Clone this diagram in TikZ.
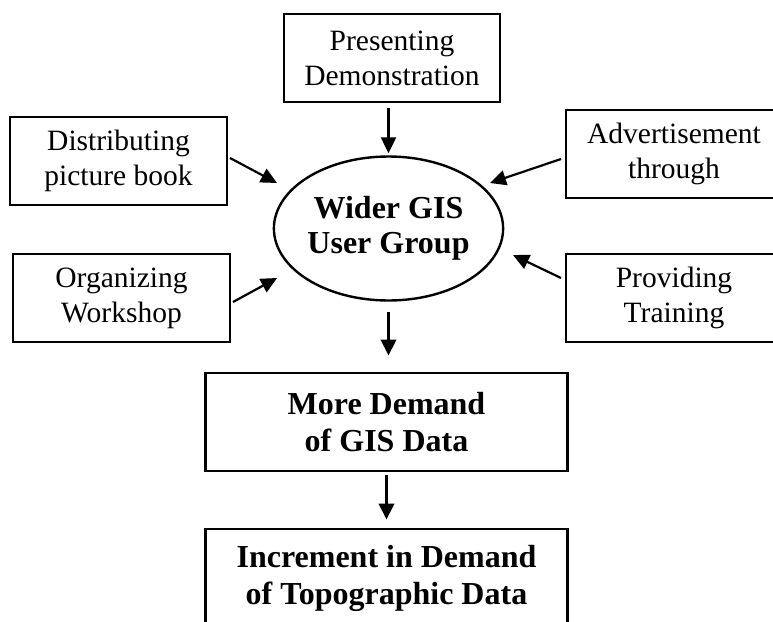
\documentclass[tikz,border=0pt]{standalone}
\usepackage{fontspec}
\setmainfont{Liberation Serif}
\usetikzlibrary{arrows.meta,shapes.geometric}
\begin{document}
\begin{tikzpicture}[x=1pt,y=1pt,
  smallbox/.style={draw, line width=2pt, minimum width=217pt, minimum height=88pt, inner sep=0pt, align=center, font=\fontsize{29.5}{35}\selectfont},
  bigbox/.style={draw, line width=2.8pt, minimum width=362pt, minimum height=98pt, inner sep=0pt, align=center, font=\fontsize{32}{37}\selectfont\bfseries},
  ellbox/.style={draw, ellipse, line width=2.4pt, minimum width=225pt, minimum height=144pt, inner sep=0pt, align=center, font=\fontsize{32}{35}\selectfont\bfseries},
  arr/.style={line width=2.2pt, -{Triangle[length=16pt,width=15pt]}},
  bigarr/.style={line width=3.4pt, -{Triangle[length=16pt,width=15pt]}}]
\useasboundingbox (0,0) rectangle (773,-621);
\clip (0,0) rectangle (773,-621);

\node[smallbox, minimum width=216pt] (pres) at (392,-58) {Presenting\\Demonstration};
\node[smallbox] (dist) at (118.5,-161) {Distributing\\picture book};
\node[smallbox] (org) at (121.5,-298) {Organizing\\Workshop};
\node[smallbox, minimum width=216pt] (adv) at (674,-154) {Advertisement\\through};
\node[smallbox, minimum width=216pt] (prov) at (674,-298) {Providing\\Training};
\node[ellbox] (ell) at (388.5,-228.5) {Wider GIS\\User Group};
\node[bigbox] (more) at (386.5,-422) {More Demand\\of GIS Data};
\node[bigbox] (inc) at (386.5,-578) {Increment in Demand\\of Topographic Data};

\coordinate (tdist) at (277,-183);
\coordinate (torg) at (277,-278);
\coordinate (tadv) at (490,-183);
\coordinate (tprov) at (513,-255);

\draw[arr, shorten <=5pt, shorten >=2pt] (ell.north |- pres.south) -- (ell.north);
\draw[arr] ([shift={(2,3)}]dist.east) -- (tdist);
\draw[arr] ([shift={(2,-4)}]org.east) -- (torg);
\draw[arr] ([shift={(-4,-5)}]adv.west) -- (tadv);
\draw[arr] ([shift={(-4,20)}]prov.west) -- (tprov);
\draw[bigarr, shorten <=10pt, shorten >=16pt] (ell.south) -- (ell.south |- more.north);
\draw[bigarr, shorten <=3pt, shorten >=8pt] (more.south) -- (inc.north);
\end{tikzpicture}
\end{document}
